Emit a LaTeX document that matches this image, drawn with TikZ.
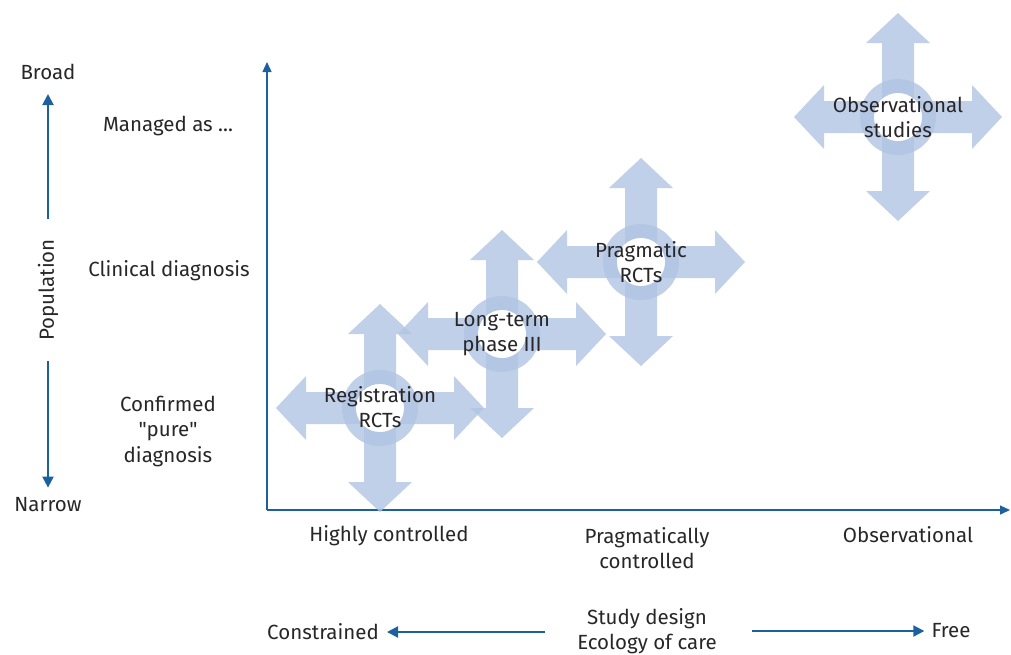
\documentclass[tikz,border=0pt]{standalone}
\usepackage{fontspec}
\setmainfont{Fira Sans}
\usetikzlibrary{arrows.meta,positioning,calc}

\definecolor{axisblue}{RGB}{28,96,158}
\definecolor{crossblue}{RGB}{176,196,226}
\definecolor{txtgray}{RGB}{40,38,40}

\tikzset{
  lbl/.style={font=\fontsize{20.5}{25.5}\selectfont, text=txtgray, align=center, inner sep=0pt},
  axisline/.style={axisblue, line width=1.3pt, -{Triangle[length=10pt,width=9pt]}},
  dirline/.style={axisblue, line width=2pt, -{Triangle[length=11pt,width=11pt]}},
  crossfill/.style={fill=crossblue, fill opacity=.8},
}

% 四向箭头与中间的圆环
\newcommand{\crossarrow}[1]{%
  \begin{scope}[shift={(#1)}]
    \fill[crossfill] (-16,-74) -- (-32,-74) -- (0,-104) -- (32,-74) -- (16,-74)
      -- (16,-16) -- (74,-16) -- (74,-32) -- (104,0) -- (74,32) -- (74,16)
      -- (16,16) -- (16,74) -- (32,74) -- (0,104) -- (-32,74) -- (-16,74)
      -- (-16,16) -- (-74,16) -- (-74,32) -- (-104,0) -- (-74,-32) -- (-74,-16)
      -- (-16,-16) -- cycle;
    \fill[crossfill, even odd rule] (0,0) circle (38pt) (0,0) circle (24pt);
    \fill[white] (0,0) circle (24pt);
  \end{scope}}

\begin{document}
\begin{tikzpicture}[x=1pt,y=-1pt]
  \useasboundingbox (0,0) rectangle (1011,654);
  % 坐标轴
  \coordinate (O) at (267,510);
  \coordinate (ytop) at (267,62);
  \coordinate (xend) at (1010,510);
  \draw[axisline] (O) -- (ytop);
  \draw[axisline] (O) -- (xend);
  % 四个研究类型的中心
  \coordinate (reg) at (380,408);
  \coordinate (long) at (502,334);
  \coordinate (prag) at (641,262);
  \coordinate (obs) at (898,117);
  \crossarrow{obs}
  \crossarrow{prag}
  \crossarrow{long}
  \crossarrow{reg}
  \node[lbl] (regtxt) at (380,407) {Registration\\RCTs};
  \node[lbl] (longtxt) at (502,334) {Long-term\\phase III};
  \node[lbl] (pragtxt) at (641,262) {Pragmatic\\RCTs};
  \node[lbl] (obstxt) at (898,117) {Observational\\studies};
  % 纵向：人群
  \node[lbl] (broad) at (48,72) {Broad};
  \node[lbl] (narrow) at (48,505) {Narrow};
  \node[lbl, rotate=90] (pop) at (48,290) {Population};
  \draw[dirline, shorten <=20pt, shorten >=14pt] (pop) -- (broad);
  \draw[dirline, shorten <=20pt, shorten >=10pt] (pop) -- (narrow);
  \node[lbl] (managed) at (168,126) {Managed as ...};
  \node[lbl] (clinical) at (169,271) {Clinical diagnosis};
  \node[lbl] (confirmed) at (168,431) {Confirmed\\\textquotedbl pure\textquotedbl\\diagnosis};
  % 横向：研究设计
  \node[lbl] (high) at (389,536) {Highly controlled};
  \node[lbl] (pragc) at (647,548) {Pragmatically\\controlled};
  \node[lbl] (obsv) at (908,535) {Observational};
  \node[lbl] (design) at (647,631) {Study design\\Ecology of care};
  \node[lbl] (constr) at (323,632) {Constrained};
  \node[lbl] (free) at (951,631) {Free};
  \draw[dirline, shorten <=32pt, shorten >=8pt] (design.west |- constr) -- (constr);
  \draw[dirline, shorten <=35pt, shorten >=7pt] (design.east |- free) -- (free);
\end{tikzpicture}
\end{document}
